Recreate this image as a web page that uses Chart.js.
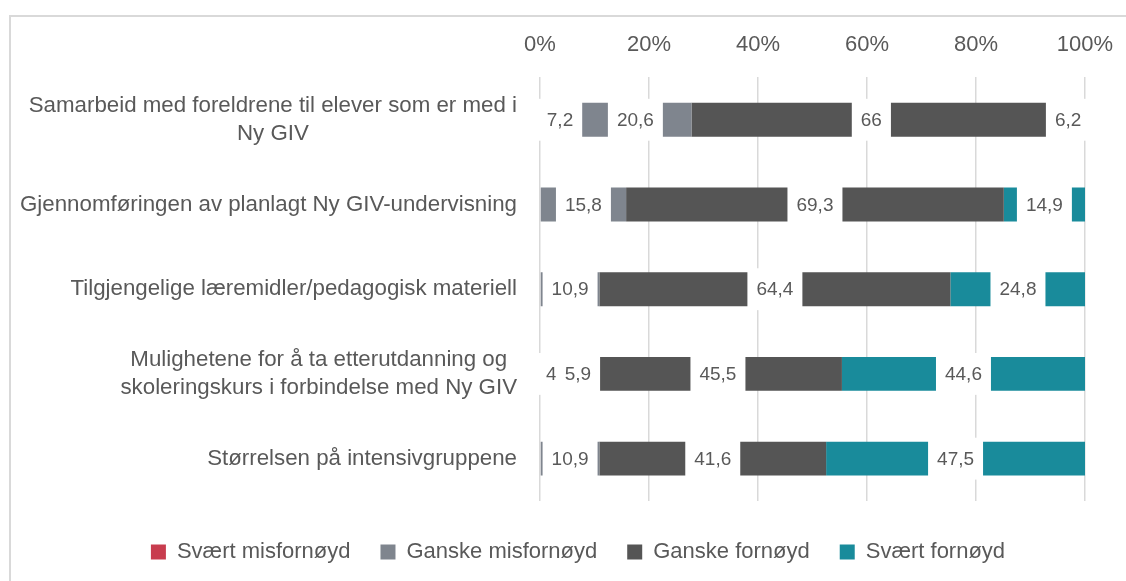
<!DOCTYPE html>
<html>
<head>
<meta charset="utf-8">
<script src="https://cdn.jsdelivr.net/npm/chart.js@4/dist/chart.umd.min.js"></script>
<style>
  html, body { margin: 0; padding: 0; background: #fff; }
</style>
</head>
<body>
<canvas id="myChart" width="1126" height="581"></canvas>
<script>
// categories (multi-line ones as arrays)
const categories = [
  ['Samarbeid med foreldrene til elever som er med i', 'Ny GIV'],
  'Gjennomføringen av planlagt Ny GIV-undervisning',
  'Tilgjengelige læremidler/pedagogisk materiell',
  ['Mulighetene for å ta etterutdanning og', 'skoleringskurs i forbindelse med Ny GIV'],
  'Størrelsen på intensivgruppene'
];
const seriesNames = ['Svært misfornøyd', 'Ganske misfornøyd', 'Ganske fornøyd', 'Svært fornøyd'];
const veryDissatisfied = [7.2, 0, 0, 4, 0];
const fairlyDissatisfied = [20.6, 15.8, 10.9, 5.9, 10.9];
const fairlySatisfied = [66, 69.3, 64.4, 45.5, 41.6];
const verySatisfied = [6.2, 14.9, 24.8, 44.6, 47.5];
const xTicks = [0, 20, 40, 60, 80, 100];

const colors = ['#c83c4e', '#7f858e', '#555555', '#198b9b'];
const textColor = '#595959';
const font = "'Liberation Sans', Arial, sans-serif";
Chart.defaults.font.family = font;
Chart.defaults.color = textColor;

// frame around the whole chart
const frame = {
  id: 'frame',
  beforeDraw(chart) {
    const ctx = chart.ctx;
    ctx.save();
    ctx.strokeStyle = '#d9d9d9';
    ctx.lineWidth = 2;
    ctx.strokeRect(10, 16, 1300, 800);
    ctx.restore();
  }
};

// white-boxed value labels centred on each segment
const valueLabels = {
  id: 'valueLabels',
  afterDatasetsDraw(chart) {
    const ctx = chart.ctx;
    ctx.save();
    ctx.font = '19px ' + font;
    ctx.textAlign = 'center';
    ctx.textBaseline = 'middle';
    chart.data.datasets.forEach((ds, di) => {
      const meta = chart.getDatasetMeta(di);
      meta.data.forEach((bar, i) => {
        const v = ds.data[i];
        if (!v) return;
        const p = bar.getProps(['x', 'y', 'base', 'height'], true);
        const txt = String(v).replace('.', ',');
        const cx = (p.x + p.base) / 2;
        const w = ctx.measureText(txt).width + 18;
        const h = p.height + 8;
        ctx.fillStyle = '#fff';
        ctx.fillRect(cx - w / 2, p.y - h / 2, w, h);
        ctx.fillStyle = textColor;
        ctx.fillText(txt, cx, p.y + 1);
      });
    });
    ctx.restore();
  }
};

// category labels: block right-aligned, lines centred inside the block
const categoryLabels = {
  id: 'categoryLabels',
  afterDraw(chart) {
    const ctx = chart.ctx;
    const y = chart.scales.y;
    const right = chart.chartArea.left - 23;
    ctx.save();
    ctx.font = '22.3px ' + font;
    ctx.fillStyle = textColor;
    ctx.textAlign = 'center';
    ctx.textBaseline = 'middle';
    categories.forEach((c, i) => {
      const lines = Array.isArray(c) ? c : [c];
      const bw = Math.max(...lines.map(l => ctx.measureText(l).width));
      const cy = y.getPixelForValue(i);
      const lh = 28;
      lines.forEach((l, k) => {
        ctx.fillText(l, right - bw / 2, cy + (k - (lines.length - 1) / 2) * lh);
      });
    });
    ctx.restore();
  }
};

// fixed legend band height
const legendBand = {
  id: 'legendBand',
  beforeInit(chart) {
    const fit = chart.legend.fit;
    chart.legend.fit = function () {
      fit.call(this);
      this.height = 80;
    };
  }
};

const ctx = document.getElementById('myChart').getContext('2d');
new Chart(ctx, {
  type: 'bar',
  data: {
    labels: categories,
    datasets: [veryDissatisfied, fairlyDissatisfied, fairlySatisfied, verySatisfied].map((d, i) => ({
      label: seriesNames[i],
      data: d,
      backgroundColor: colors[i],
      borderWidth: 0,
      categoryPercentage: 0.4,
      barPercentage: 1
    }))
  },
  options: {
    indexAxis: 'y',
    responsive: false,
    animation: false,
    devicePixelRatio: 1,
    layout: { padding: { left: 30, right: 0, top: 13, bottom: 0 } },
    scales: {
      x: {
        position: 'top',
        stacked: true,
        min: 0,
        max: 100,
        afterBuildTicks(scale) {
          scale.ticks = xTicks.map(v => ({ value: v }));
        },
        afterFit(scale) {
          scale.paddingLeft = 0;
          scale.paddingRight = 0;
        },
        ticks: {
          padding: 19,
          font: { size: 22 },
          color: textColor,
          callback: v => v + '%'
        },
        grid: { color: '#d9d9d9', lineWidth: 1.5, drawTicks: false },
        border: { display: false }
      },
      y: {
        stacked: true,
        ticks: { display: false },
        grid: { display: false },
        border: { display: false },
        afterFit(scale) { scale.width = 510; }
      },
      y2: {
        axis: 'y',
        position: 'right',
        ticks: { display: false },
        grid: { display: false },
        border: { display: false },
        afterFit(scale) { scale.width = 41; }
      }
    },
    plugins: {
      legend: {
        position: 'bottom',
        title: { display: true, text: '', font: { size: 10, lineHeight: 1 }, padding: 0 },
        labels: {
          boxWidth: 15,
          boxHeight: 15,
          padding: 30,
          color: textColor,
          font: { size: 22 }
        }
      },
      tooltip: { enabled: false }
    }
  },
  plugins: [frame, valueLabels, categoryLabels, legendBand]
});
</script>
</body>
</html>
